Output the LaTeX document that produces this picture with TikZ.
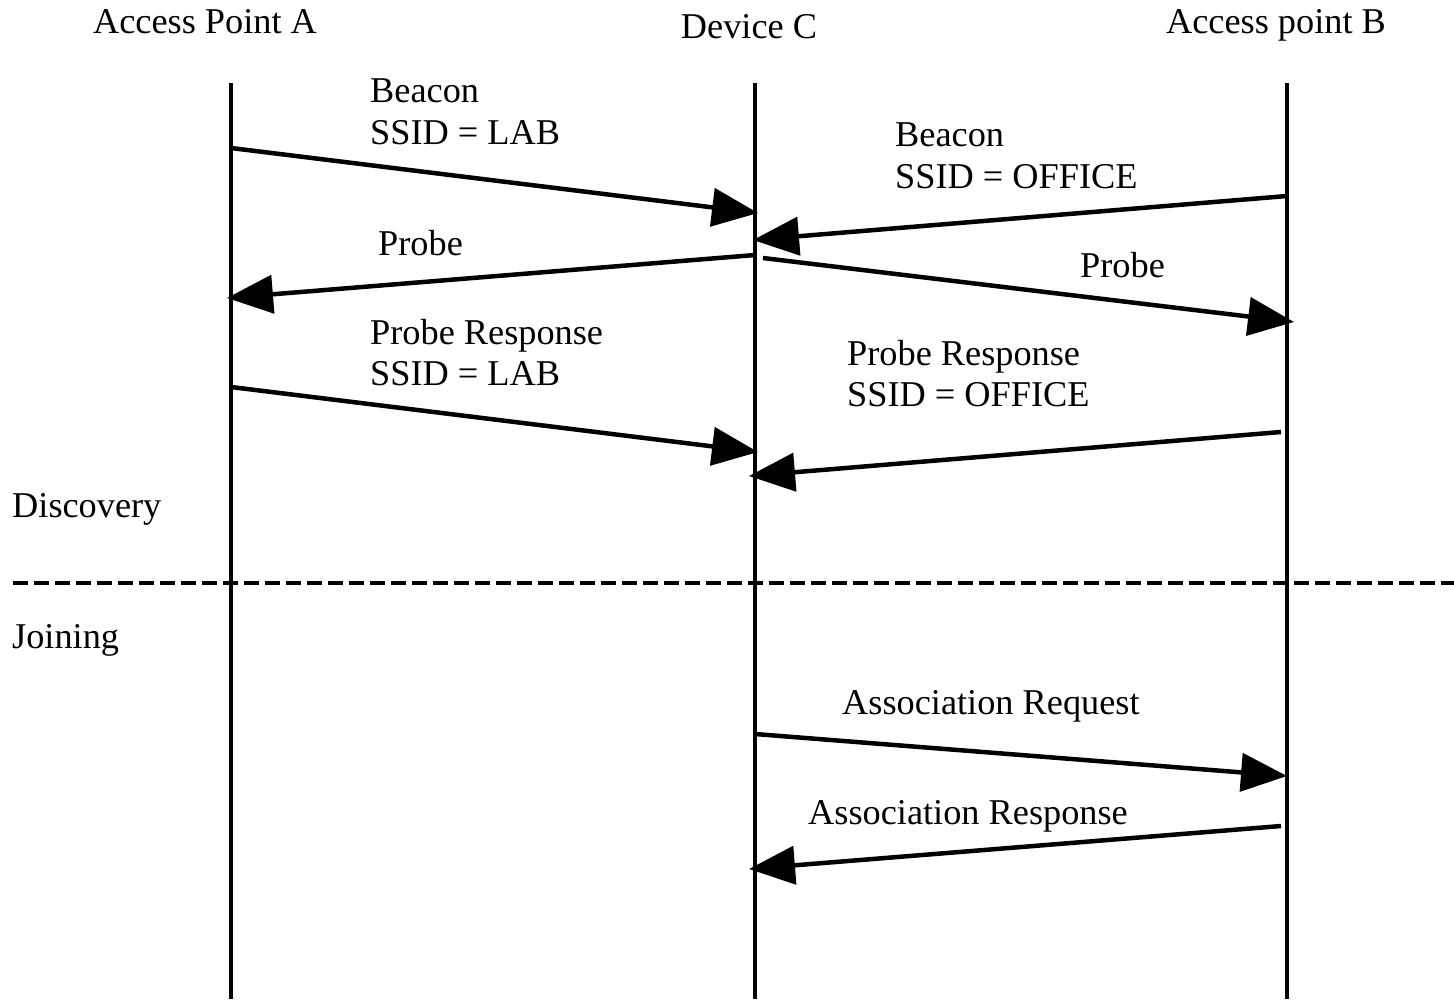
\documentclass[tikz,border=0pt]{standalone}
\usepackage{fontspec}
\setmainfont{Liberation Serif}
\usetikzlibrary{arrows.meta}
\begin{document}
\begin{tikzpicture}[x=1pt,y=-1pt,
  lifeline/.style={line width=4.8pt},
  msg/.style={line width=4.5pt,-{Triangle[length=46pt,width=38pt]}},
  sep/.style={line width=4.7pt,dash pattern=on 15pt off 6pt},
  lbl/.style={anchor=base west,inner sep=0pt,font=\fontsize{36.3}{42}\selectfont},
  head/.style={anchor=base,inner sep=0pt,font=\fontsize{36.3}{42}\selectfont}]
\useasboundingbox (0,0) rectangle (1454,999);

% participants
\node[head] (hA) at (205,33) {Access Point A};
\node[head] (hC) at (749,38) {Device C};
\node[head] (hB) at (1276,33) {Access point B};

% lifelines
\coordinate (A0) at (231,83);  \coordinate (A1) at (231,999);
\coordinate (C0) at (755,83);  \coordinate (C1) at (755,999);
\coordinate (B0) at (1287,83); \coordinate (B1) at (1287,999);
\draw[lifeline] (A0) -- (A1);
\draw[lifeline] (C0) -- (C1);
\draw[lifeline] (B0) -- (B1);

% phase separator
\coordinate (s0) at (13,583); \coordinate (s1) at (1454,583);
\draw[sep] (s0) -- (s1);
\node[lbl] (disc) at (12,517) {Discovery};
\node[lbl] (join) at (12,648) {Joining};

% message end points
\coordinate (m1s) at (231,148);  \coordinate (m1e) at (758,213);
\coordinate (m2s) at (1287,196); \coordinate (m2e) at (753,240);
\coordinate (m3s) at (755,255);  \coordinate (m3e) at (227,298);
\coordinate (m4s) at (763,258);  \coordinate (m4e) at (1294,322);
\coordinate (m5s) at (231,387);  \coordinate (m5e) at (758,452);
\coordinate (m6s) at (1281,432); \coordinate (m6e) at (749,476);
\coordinate (m7s) at (755,734);  \coordinate (m7e) at (1287,776);
\coordinate (m8s) at (1281,826); \coordinate (m8e) at (749,869);

% messages
\draw[msg] (m1s) -- (m1e);
\draw[msg] (m2s) -- (m2e);
\draw[msg] (m3s) -- (m3e);
\draw[msg] (m4s) -- (m4e);
\draw[msg] (m5s) -- (m5e);
\draw[msg] (m6s) -- (m6e);
\draw[msg] (m7s) -- (m7e);
\draw[msg] (m8s) -- (m8e);

% message labels
\node[lbl] (l1a) at (370,102) {Beacon};
\node[lbl] (l1b) at (370,144) {SSID = LAB};
\node[lbl] (l2a) at (895,146) {Beacon};
\node[lbl] (l2b) at (895,188) {SSID = OFFICE};
\node[lbl] (l3)  at (378,255) {Probe};
\node[lbl] (l4)  at (1080,277) {Probe};
\node[lbl] (l5a) at (370,344) {Probe Response};
\node[lbl] (l5b) at (370,385) {SSID = LAB};
\node[lbl] (l6a) at (847,365) {Probe Response};
\node[lbl] (l6b) at (847,406) {SSID = OFFICE};
\node[lbl] (l7)  at (842,714) {Association Request};
\node[lbl] (l8)  at (808,824) {Association Response};
\end{tikzpicture}
\end{document}
